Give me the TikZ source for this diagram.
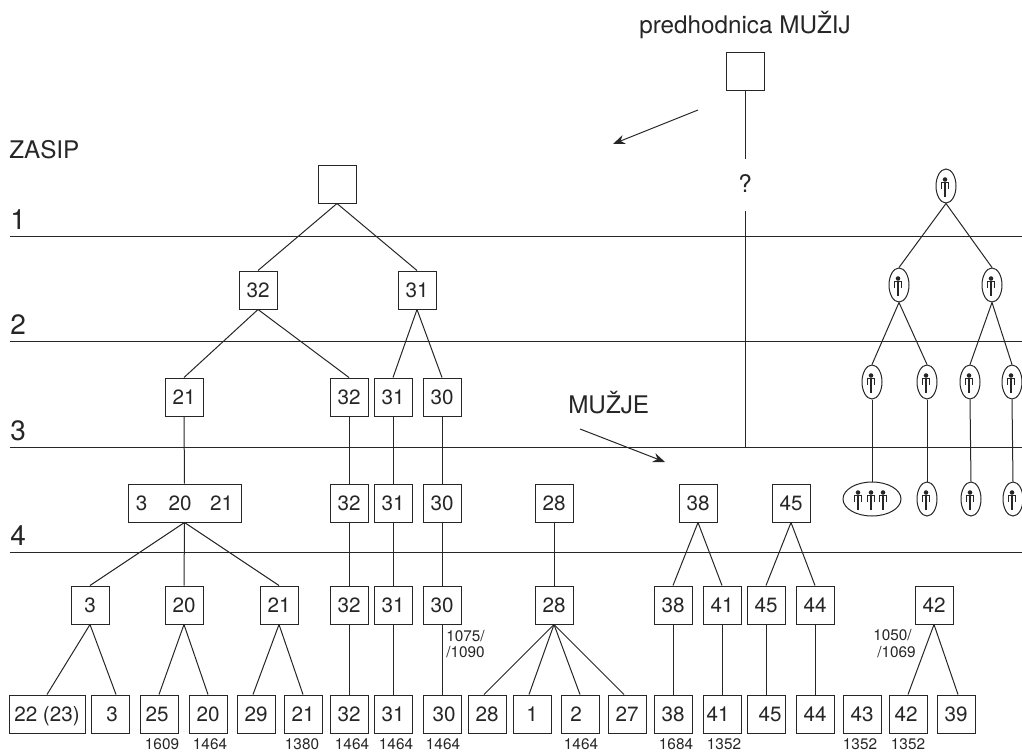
\documentclass[tikz,border=0pt]{standalone}
\usepackage{fontspec}
\setmainfont{TeX Gyre Heros}
\usetikzlibrary{shapes.geometric,arrows.meta,calc}
\definecolor{ink}{gray}{0.15}
\newcommand{\shf}[2]{\hspace*{#1}#2}
\tikzset{
  x=0.75pt,y=-0.75pt,
  ln/.style={draw=ink,line width=0.75pt},
  bx/.style={ln,rectangle,minimum width=28.5pt,minimum height=28.5pt,inner sep=0pt,font=\fontsize{15.5}{15.5}\selectfont,text=ink,text height=10.8pt,text depth=0pt},
  wbx/.style={bx,minimum width=84.75pt},
  lbl/.style={font=\fontsize{18.2}{18.2}\selectfont,text=ink,inner sep=0pt},
  lvl/.style={font=\fontsize{21}{21}\selectfont,text=ink,inner sep=0pt},
  yr/.style={font=\fontsize{11.5}{11.5}\selectfont,text=ink,inner sep=0pt},
  pers/.style={ln,ellipse,minimum width=15pt,minimum height=25.5pt,inner sep=0pt},
  pers3/.style={ln,ellipse,minimum width=43.5pt,minimum height=25.5pt,inner sep=0pt},
  arr/.style={ln,-{Stealth[length=9pt,width=7pt]}},
  man/.pic={
    \fill[ink] (-1,-6.5) circle[radius=1.7pt];
    \draw[ink,line width=0.95pt] (-4.7,2.7) -- (-4.7,-3.3) -- (2.7,-3.3) -- (2.7,2.7) (-1,-3.3) -- (-1,11);
  }
}
\begin{document}
\begin{tikzpicture}
\useasboundingbox (0,0) rectangle (1022,753);
% level rules
\foreach \n/\y in {1/236,2/341,3/447,4/552}{
  \coordinate (L\n a) at (10,\y);
  \coordinate (L\n b) at (1022,\y);
  \draw[ln] (L\n a) -- (L\n b);
}
\node[lvl,anchor=west] (n1) at (10,220) {1};
\node[lvl,anchor=west] (n2) at (10,325) {2};
\node[lvl,anchor=west] (n3) at (10,431) {3};
\node[lvl,anchor=west] (n4) at (10,536) {4};
\node[lbl,anchor=west] (zasip) at (9,150) {ZASIP};
\node[lbl,anchor=west] (muzje) at (568,403) {MUŽJE};
\node[lbl] (pred) at (745,25) {predhodnica MUŽIJ};
% ancestor
\node[bx] (P) at (745,71) {};
\node[lbl,minimum height=37pt] (q) at (745,183.5) {?};
\coordinate (q2) at (745,211);
\coordinate (q3) at (745,447);
\draw[ln] (P.south) -- (q.north);
\draw[ln] (q2) -- (q3);
% arrows
\coordinate (a1) at (698,110); \coordinate (a2) at (613,144);
\coordinate (b1) at (580,429); \coordinate (b2) at (665,462);
\draw[arr] (a1) -- (a2);
\draw[arr] (b1) -- (b2);
% tree boxes
\node[bx] (T) at (337,184) {};
\node[bx] (a32) at (258,290) {32};
\node[bx] (a31) at (417,290) {31};
\node[bx] (b21) at (184,397) {21};
\node[bx] (b32) at (349,397) {32};
\node[bx] (b31) at (393,397) {31};
\node[bx] (b30) at (442,397) {30};
\node[wbx] (cW) at (184.5,503) {3\hspace{16pt}20\hspace{14pt}21};
\node[bx] (c32) at (349,503) {32};
\node[bx] (c31) at (393,503) {31};
\node[bx] (c30) at (442,503) {30};
\node[bx] (c28) at (554,503) {28};
\node[bx] (c38) at (698,503) {38};
\node[bx] (c45) at (791,503) {45};
\node[bx] (d3) at (90,605) {3};
\node[bx] (d20) at (184,605) {20};
\node[bx] (d21) at (279,605) {21};
\node[bx] (d32) at (349,605) {32};
\node[bx] (d31) at (393,605) {31};
\node[bx] (d30) at (442,605) {30};
\node[bx] (d28) at (554,605) {28};
\node[bx] (d38) at (673,605) {38};
\node[bx] (d41) at (722,605) {41};
\node[bx] (d45) at (766,605) {45};
\node[bx] (d44) at (815,605) {44};
\node[bx] (d42) at (934,605) {42};
\node[bx,minimum width=57pt] (e22) at (47,714) {22 (23)};
\node[bx] (e3) at (110,714) {\shf{3pt}{3}};
\node[bx] (e25) at (159,714) {\shf{-3pt}{25}};
\node[bx] (e20) at (208,714) {20};
\node[bx] (e29) at (256,714) {29};
\node[bx] (e21) at (303,714) {21};
\node[bx] (e32) at (349,714) {32};
\node[bx] (e31) at (393,714) {31};
\node[bx] (e30) at (442,714) {\shf{3pt}{30}};
\node[bx] (e28) at (487,714) {28};
\node[bx] (e1) at (532,714) {1};
\node[bx] (e2) at (580,714) {\shf{-6pt}{2}};
\node[bx] (e27) at (627,714) {27};
\node[bx] (e38) at (673,714) {38};
\node[bx] (e41) at (722,714) {\shf{-6pt}{41}};
\node[bx] (e45) at (766,714) {\shf{6pt}{45}};
\node[bx] (e44) at (815,714) {44};
\node[bx] (e43) at (862,714) {43};
\node[bx] (e42) at (908,714) {\shf{-3pt}{42}};
\node[bx] (e39) at (956,714) {39};
% tree connectors
\foreach \p/\c in {T/a32,T/a31,a32/b21,a32/b32,a31/b31,a31/b30,b21/cW,b32/c32,b31/c31,b30/c30,
  cW/d3,cW/d20,cW/d21,c32/d32,c31/d31,c30/d30,c28/d28,c38/d38,c38/d41,c45/d45,c45/d44,
  d3/e22,d20/e25,d20/e20,d21/e21,d32/e32,d31/e31,d30/e30,d38/e38,d41/e41,d45/e45,d44/e44,d42/e42}
  \draw[ln] (\p.south) -- (\c.north);
\draw[ln] (d3.south) -- ($(e3.north)+(6,0)$);
\draw[ln] (d21.south) -- ($(e29.north)+(-3,0)$);
\draw[ln] (d28.south) -- ($(e28.north)+(-3,0)$);
\draw[ln] (d28.south) -- ($(e1.north)+(-3,0)$);
\draw[ln] (d28.south) -- (e2.north);
\draw[ln] (d28.south) -- ($(e27.north)+(-3,0)$);
\draw[ln] (d42.south) -- ($(e39.north)+(2,0)$);
% year labels
\foreach \n/\x/\t in {y1/162/1609,y2/210/1464,y3/302/1380,y4/352/1464,y5/396/1464,y6/443/1464,y7/581/1464,y8/676/1684,y9/724/1352,y10/860/1352,y11/908/1352}
  \node[yr] (\n) at (\x,744) {\t};
\node[yr,anchor=west] (r1) at (446,636) {1075/};
\node[yr,anchor=west] (r2) at (446,652) {/1090};
\node[yr,anchor=west] (r3) at (873,635) {1050/};
\node[yr,anchor=west] (r4) at (877,652) {/1069};
% people tree
\node[pers] (m0) at (946,186) {};
\node[pers] (m1) at (899,285) {};
\node[pers] (m2) at (992,285) {};
\node[pers] (m3) at (872,382) {};
\node[pers] (m4) at (927,382) {};
\node[pers] (m5) at (970,382) {};
\node[pers] (m6) at (1012,382) {};
\node[pers3] (m7) at (872,499) {};
\node[pers] (m8) at (927,499) {};
\node[pers] (m9) at (971,499) {};
\node[pers] (m10) at (1013,499) {};
\foreach \p/\c in {m0/m1,m0/m2,m1/m3,m1/m4,m2/m5,m2/m6,m3/m7,m4/m8,m5/m9,m6/m10}
  \draw[ln] (\p.south) -- (\c.north);
\foreach \m in {m0,m1,m2,m3,m4,m5,m6,m8,m9,m10}
  \pic at (\m) {man};
\pic at ($(m7)+(-13,0)$) {man};
\pic at (m7) {man};
\pic at ($(m7)+(12,0)$) {man};
\end{tikzpicture}
\end{document}
